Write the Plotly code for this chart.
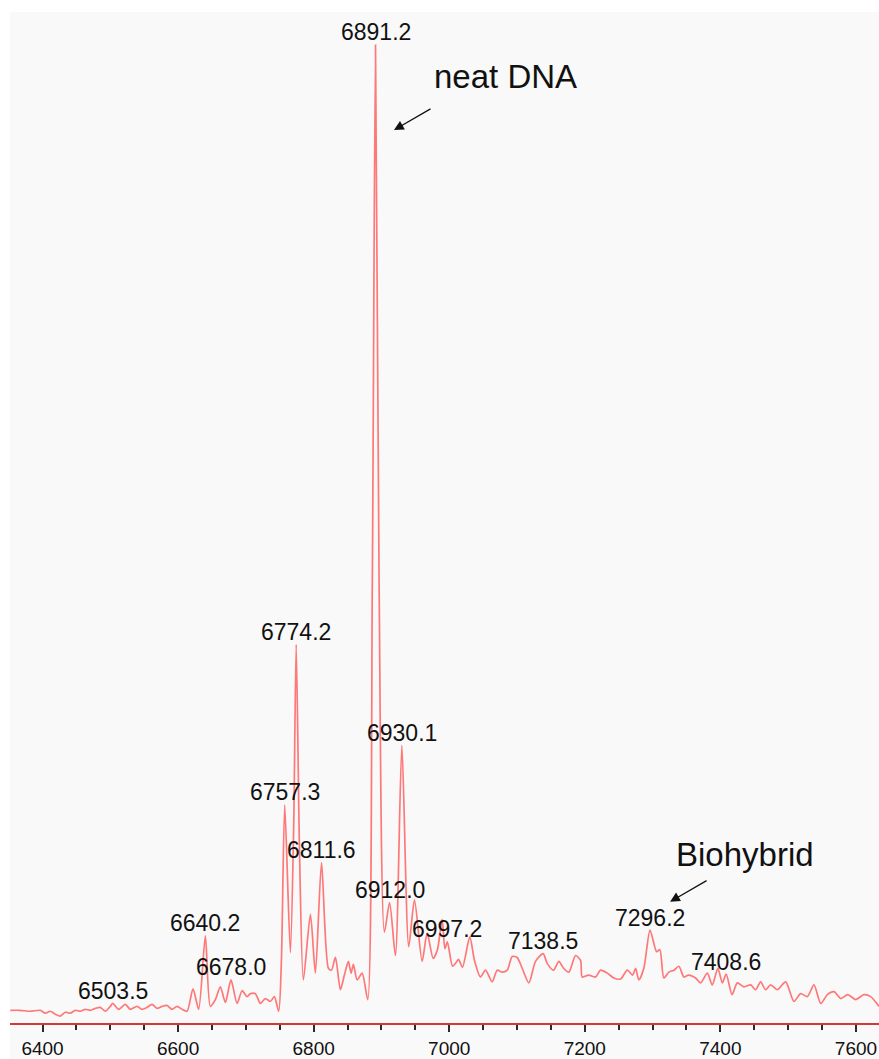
import plotly.graph_objects as go

# MALDI-TOF spectrum: m/z and relative intensity (%)
mz = [
    6352.4, 6367.1, 6381.9, 6396.6, 6404.0, 6411.4, 6418.8, 6426.2, 6433.5, 6440.9,
    6448.3, 6455.7, 6463.1, 6470.4, 6477.8, 6485.2, 6492.6, 6500.0, 6503.5, 6512.2,
    6522.1, 6529.5, 6539.4, 6546.7, 6554.1, 6561.5, 6568.9, 6576.3, 6583.6, 6591.0,
    6598.4, 6605.8, 6613.2, 6622.0, 6630.3, 6640.2, 6647.6, 6655.0, 6662.3, 6669.7,
    6678.0, 6687.0, 6694.4, 6701.7, 6706.6, 6714.0, 6721.4, 6728.7, 6736.1, 6742.0,
    6748.4, 6752.4, 6757.3, 6765.6, 6770.5, 6774.2, 6779.0, 6784.8, 6795.2, 6802.5,
    6811.6, 6821.7, 6826.2, 6832.1, 6839.4, 6845.3, 6851.2, 6855.2, 6858.6, 6864.1,
    6871.5, 6879.7, 6886.5, 6891.2, 6896.5, 6904.4, 6912.0, 6920.6, 6930.1, 6940.2,
    6948.7, 6960.0, 6967.4, 6976.3, 6982.6, 6989.6, 6993.5, 6997.2, 7004.8, 7009.2,
    7013.6, 7019.5, 7030.3, 7037.2, 7046.1, 7053.5, 7063.3, 7070.7, 7078.1, 7085.5,
    7092.9, 7100.2, 7107.6, 7117.4, 7127.3, 7138.5, 7144.5, 7153.8, 7161.7, 7168.6,
    7176.4, 7186.3, 7193.7, 7196.2, 7205.5, 7215.8, 7223.2, 7233.1, 7242.8, 7252.7,
    7262.6, 7270.4, 7274.9, 7279.7, 7287.1, 7296.2, 7305.9, 7310.7, 7316.6, 7324.0,
    7331.4, 7338.8, 7346.2, 7353.1, 7363.4, 7370.8, 7380.7, 7388.0, 7396.3, 7402.9,
    7408.6, 7417.2, 7425.0, 7434.7, 7444.6, 7452.0, 7459.4, 7466.7, 7474.1, 7484.0,
    7496.3, 7508.5, 7518.4, 7528.3, 7538.1, 7548.1, 7557.8, 7567.6, 7577.5, 7587.8,
    7599.6, 7611.8, 7621.7, 7634.0,
]
intensity = [
    1.3, 1.3, 1.2, 1.3, 1.0, 1.2, 0.9, 0.7, 1.1, 1.0,
    1.3, 1.2, 1.4, 1.3, 1.5, 1.6, 1.2, 1.7, 2.0, 1.4,
    1.9, 1.4, 1.7, 1.4, 1.6, 1.9, 1.5, 1.7, 1.8, 1.4,
    1.7, 1.4, 1.2, 3.5, 1.4, 8.9, 1.7, 2.4, 3.7, 2.1,
    4.4, 2.0, 3.3, 2.7, 3.0, 3.0, 2.0, 2.5, 2.2, 2.7,
    1.2, 6.4, 22.3, 7.2, 20.0, 38.7, 18.0, 4.4, 11.1, 5.1,
    16.4, 5.6, 5.4, 6.7, 3.4, 4.9, 6.3, 5.1, 6.0, 4.4,
    5.1, 2.4, 45.0, 100.0, 45.0, 9.3, 12.3, 6.9, 28.4, 7.8,
    12.6, 6.3, 9.2, 6.6, 7.5, 10.6, 7.6, 8.3, 5.8, 6.1,
    6.5, 5.7, 8.8, 6.4, 4.7, 5.4, 4.2, 5.4, 5.2, 5.4,
    6.8, 6.7, 5.6, 4.1, 6.3, 7.1, 6.1, 5.4, 6.3, 5.6,
    5.2, 6.9, 6.4, 4.7, 4.9, 4.7, 5.4, 5.1, 4.6, 4.5,
    5.4, 4.9, 5.6, 4.4, 5.6, 9.5, 7.3, 7.5, 4.6, 5.2,
    5.4, 5.8, 4.7, 4.9, 4.6, 4.1, 5.1, 3.9, 5.6, 4.1,
    5.0, 2.9, 4.1, 3.7, 3.9, 3.4, 4.2, 3.4, 3.9, 3.4,
    4.2, 2.2, 3.0, 2.7, 3.9, 2.0, 2.9, 3.2, 2.5, 2.9,
    2.4, 2.9, 2.7, 1.7,
]

# Labelled peaks (m/z values)
peak_labels = [6503.5, 6640.2, 6678.0, 6757.3, 6774.2, 6811.6, 6891.2, 6912.0,
               6930.1, 6997.2, 7138.5, 7296.2, 7408.6]

FONT = "Liberation Sans, Arial, Helvetica, sans-serif"
BG = "#f9f9f9"

fig = go.Figure()
fig.add_trace(go.Scatter(
    x=mz, y=intensity, mode="lines",
    line=dict(color="rgba(255,105,105,0.9)", width=1.7,
              shape="spline", smoothing=0.7),
    hoverinfo="x+y",
))

annotations = []
for m in peak_labels:
    i = mz.index(m)
    annotations.append(dict(
        x=m, y=intensity[i], xref="x", yref="y",
        text=f"{m:.1f}", showarrow=False,
        xanchor="center", yanchor="middle", yshift=12.5,
        font=dict(family=FONT, size=23, color="#111111"),
    ))

# Callouts
annotations += [
    dict(x=7083.5, y=96.8, xref="x", yref="y", text="neat DNA", showarrow=False,
         xanchor="center", yanchor="middle",
         font=dict(family=FONT, size=33, color="#111111")),
    dict(x=6918.5, y=91.3, xref="x", yref="y", text="", showarrow=True,
         ax=38, ay=-22, axref="pixel", ayref="pixel",
         arrowhead=2, arrowsize=1.5, arrowwidth=1.3, arrowcolor="#111111"),
    dict(x=7436.4, y=17.2, xref="x", yref="y", text="Biohybrid", showarrow=False,
         xanchor="center", yanchor="middle",
         font=dict(family=FONT, size=33, color="#111111")),
    dict(x=7325.8, y=12.4, xref="x", yref="y", text="", showarrow=True,
         ax=38, ay=-22, axref="pixel", ayref="pixel",
         arrowhead=2, arrowsize=1.5, arrowwidth=1.3, arrowcolor="#111111"),
]

fig.update_layout(
    width=879, height=1059,
    margin=dict(l=10, r=0, t=12, b=36),
    paper_bgcolor="white",
    plot_bgcolor=BG,
    showlegend=False,
    annotations=annotations,
    shapes=[dict(type="rect", xref="paper", yref="paper",
                 x0=0, x1=1, y0=-0.04, y1=0,
                 fillcolor=BG, line=dict(width=0), layer="below")],
    xaxis=dict(
        range=[6352, 7634],
        showgrid=False, zeroline=False,
        showline=True, linecolor="#d23a3a", linewidth=2,
        ticks="outside", ticklen=7, tickwidth=1.6, tickcolor="#2a2a2a",
        tick0=6400, dtick=200,
        minor=dict(ticks="outside", ticklen=5, tickwidth=1.6,
                   tickcolor="#2a2a2a", dtick=50, showgrid=False),
        tickfont=dict(family=FONT, size=19, color="#111111"),
    ),
    yaxis=dict(range=[0, 103.37], visible=False, showgrid=False, zeroline=False),
)

fig.write_html("out.html")
